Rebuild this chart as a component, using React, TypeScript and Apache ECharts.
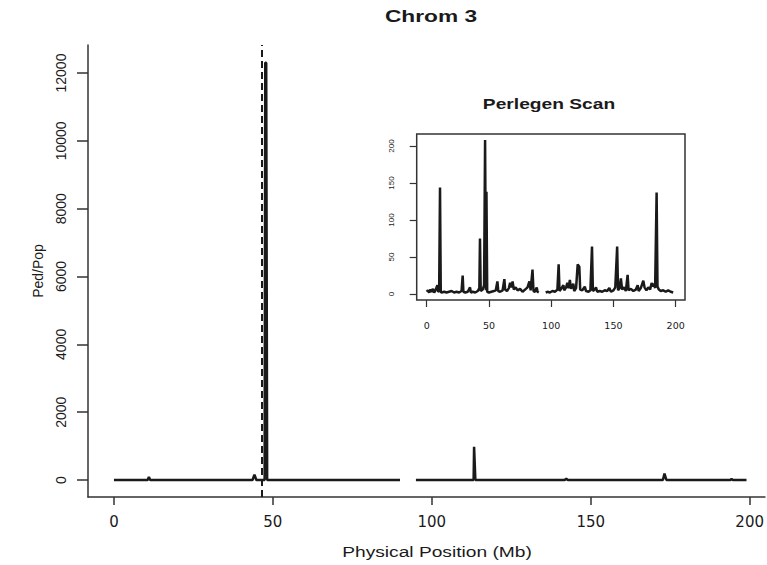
import React, { useEffect, useRef } from "react";
import * as echarts from "echarts";

// Main scan: physical position (Mb) vs Ped/Pop
const mainPos = [0, 10.6, 11, 11.4, 43.6, 44.2, 44.8, 47.4, 47.6, 47.9, 48.2, 90, 92, 95, 113.15, 113.3, 113.5, 113.7, 141.8, 142.3, 142.8, 172.7, 173.2, 173.8, 193.9, 194.3, 194.7, 199];
const mainVal = [0, 0, 90, 0, 0, 160, 0, 0, 12300, 12300, 0, 0, null, 0, 0, 980, 500, 0, 0, 40, 0, 0, 190, 0, 0, 30, 0, 0];
const markerPos = 46.4;

// Inset: Perlegen scan
const insetPos = [0, 1, 2, 3, 4, 5, 6, 7, 8, 8.6, 9.2, 10, 10.7, 11.3, 12, 14, 16, 18, 20, 22, 24, 26, 28, 28.9, 29.5, 31, 33, 34.8, 35.5, 37, 39, 41, 42.3, 42.8, 43.4, 45, 46.1, 46.9, 47.6, 48, 48.6, 50, 52, 54, 55.5, 56.8, 57.5, 59, 61, 62.4, 63, 64.5, 66, 67, 68, 69, 70, 71.5, 73, 75, 77, 79, 81, 82.5, 83.5, 85, 85.8, 87, 88.4, 89, 90, 92,
  95.6, 97, 99, 101, 103, 105, 106, 106.7, 108, 109.8, 110.5, 112, 113, 114, 115, 116, 117.8, 118.5, 120, 121.3, 122.6, 123.3, 125, 127, 128, 130, 131.5, 132.8, 133.5, 135, 136, 137, 139, 141, 143, 145, 146.7, 148, 150, 151.5, 153, 153.7, 155, 156, 157, 158.5, 160, 161.4, 162.2, 164, 166, 168, 169.5, 170.3, 172, 174, 175, 176.5, 178, 179.5, 180.7, 181.5, 182.5, 183.5, 184.7, 185.4, 186.5, 188, 190, 192, 194, 196, 198];
const insetVal = [3, 5, 2, 6, 3, 7, 2, 5, 9, 12, 3, 4, 144, 3, 2, 3, 2, 3, 4, 2, 3, 2, 4, 25, 3, 2, 3, 9, 2, 3, 2, 4, 8, 75, 4, 6, 12, 208, 5, 138, 3, 2, 3, 4, 5, 17, 4, 3, 5, 20, 6, 4, 8, 15, 9, 17, 6, 9, 5, 7, 3, 6, 9, 17, 5, 33, 4, 3, 9, 3, 2, null,
  2, 3, 2, 4, 3, 6, 40, 4, 7, 12, 5, 9, 15, 8, 19, 7, 14, 4, 8, 40, 37, 6, 5, 10, 4, 3, 5, 64, 4, 6, 9, 3, 4, 3, 5, 4, 8, 3, 5, 9, 64, 5, 8, 21, 6, 9, 4, 26, 5, 7, 4, 6, 12, 4, 8, 18, 9, 5, 9, 6, 15, 10, 14, 8, 137, 10, 6, 4, 5, 3, 5, 3, 2];

const mainXTicks = [0, 50, 100, 150, 200];
const mainYTicks = [0, 2000, 4000, 6000, 8000, 10000, 12000];
const insetXTicks = [0, 50, 100, 150, 200];
const insetYTicks = [0, 50, 100, 150, 200];

const titleText = "Chrom 3";
const insetTitle = "Perlegen Scan";
const xName = "Physical Position (Mb)";
const yName = "Ped/Pop";

const INK = "#1a1a1a";
const AXIS = "#333";
const plain = (v: number) => String(v);

export default function App() {
  const ref = useRef<HTMLDivElement>(null);
  useEffect(() => {
    if (!ref.current) return;
    const chart = echarts.init(ref.current, null, { renderer: "svg" });
    const mainData = mainPos.map((p, i) => [p, mainVal[i] === null ? "-" : mainVal[i]]);
    const insetData = insetPos.map((p, i) => [p, insetVal[i] === null ? "-" : insetVal[i]]);
    chart.setOption({
      animation: false,
      backgroundColor: "#fff",
      grid: [
        { left: 88, top: 45, width: 679, height: 452, show: false },
        { left: 416.7, top: 134, width: 268.3, height: 166, show: true, borderColor: AXIS, borderWidth: 1.5, backgroundColor: "transparent" },
      ],
      xAxis: [
        {
          type: "value", gridIndex: 0, min: -8.16, max: 204.8,
          axisLine: { show: true, onZero: false, lineStyle: { color: AXIS, width: 1.5 } },
          axisTick: { show: true, customValues: mainXTicks, length: 8, lineStyle: { color: AXIS, width: 1.5 } },
          axisLabel: { customValues: mainXTicks, formatter: plain, margin: 17, fontFamily: "DejaVu Sans", fontSize: 15, color: INK },
          splitLine: { show: false },
        },
        {
          type: "value", gridIndex: 1, min: -8.03, max: 207.5,
          axisLine: { show: false, onZero: false },
          axisTick: { show: true, customValues: insetXTicks, length: 7, lineStyle: { color: AXIS, width: 1.2 } },
          axisLabel: { customValues: insetXTicks, formatter: plain, margin: 20, fontFamily: "DejaVu Sans", fontSize: 9.5, color: INK },
          splitLine: { show: false },
        },
      ],
      yAxis: [
        {
          type: "value", gridIndex: 0, min: -501, max: 12826,
          name: yName, nameLocation: "middle", nameRotate: 90, nameGap: 43,
          nameTextStyle: { fontFamily: "Liberation Sans", fontSize: 14, color: INK },
          axisLine: { show: true, onZero: false, lineStyle: { color: AXIS, width: 1.5 } },
          axisTick: { show: true, customValues: mainYTicks, length: 11, lineStyle: { color: AXIS, width: 1.5 } },
          axisLabel: { customValues: mainYTicks, formatter: plain, rotate: 90, margin: 20, fontFamily: "Liberation Sans", fontSize: 14, color: INK },
          splitLine: { show: false },
        },
        {
          type: "value", gridIndex: 1, min: -8.1, max: 216.2,
          axisLine: { show: false, onZero: false },
          axisTick: { show: true, customValues: insetYTicks, length: 7, lineStyle: { color: AXIS, width: 1.2 } },
          axisLabel: { customValues: insetYTicks, formatter: plain, rotate: 90, margin: 21, fontFamily: "Liberation Sans", fontSize: 8, color: INK },
          splitLine: { show: false },
        },
      ],
      series: [
        {
          type: "line", xAxisIndex: 0, yAxisIndex: 0, data: mainData,
          symbol: "none", connectNulls: false,
          lineStyle: { color: INK, width: 2.5 },
          markLine: {
            silent: true, symbol: ["none", "none"], label: { show: false },
            lineStyle: { color: INK, width: 2, type: [7, 4] },
            data: [{ xAxis: markerPos }],
          },
        },
        {
          type: "line", xAxisIndex: 1, yAxisIndex: 1, data: insetData,
          symbol: "none", connectNulls: false,
          lineStyle: { color: INK, width: 2.5 },
        },
      ],
      graphic: [
        { type: "text", x: 431, y: 16, scaleX: 1.42, style: { text: titleText, fontFamily: "Liberation Sans", fontWeight: "bold", fontSize: 16, fill: INK, align: "center", verticalAlign: "middle" } },
        { type: "text", x: 549, y: 104, scaleX: 1.28, style: { text: insetTitle, fontFamily: "Liberation Sans", fontWeight: "bold", fontSize: 15, fill: INK, align: "center", verticalAlign: "middle" } },
        { type: "text", x: 437, y: 552, scaleX: 1.37, style: { text: xName, fontFamily: "Liberation Sans", fontSize: 14, fill: INK, align: "center", verticalAlign: "middle" } },
      ],
    });
    return () => chart.dispose();
  }, []);
  return <div ref={ref} style={{ position: "fixed", left: 0, top: 0, width: 767, height: 565 }} />;
}
